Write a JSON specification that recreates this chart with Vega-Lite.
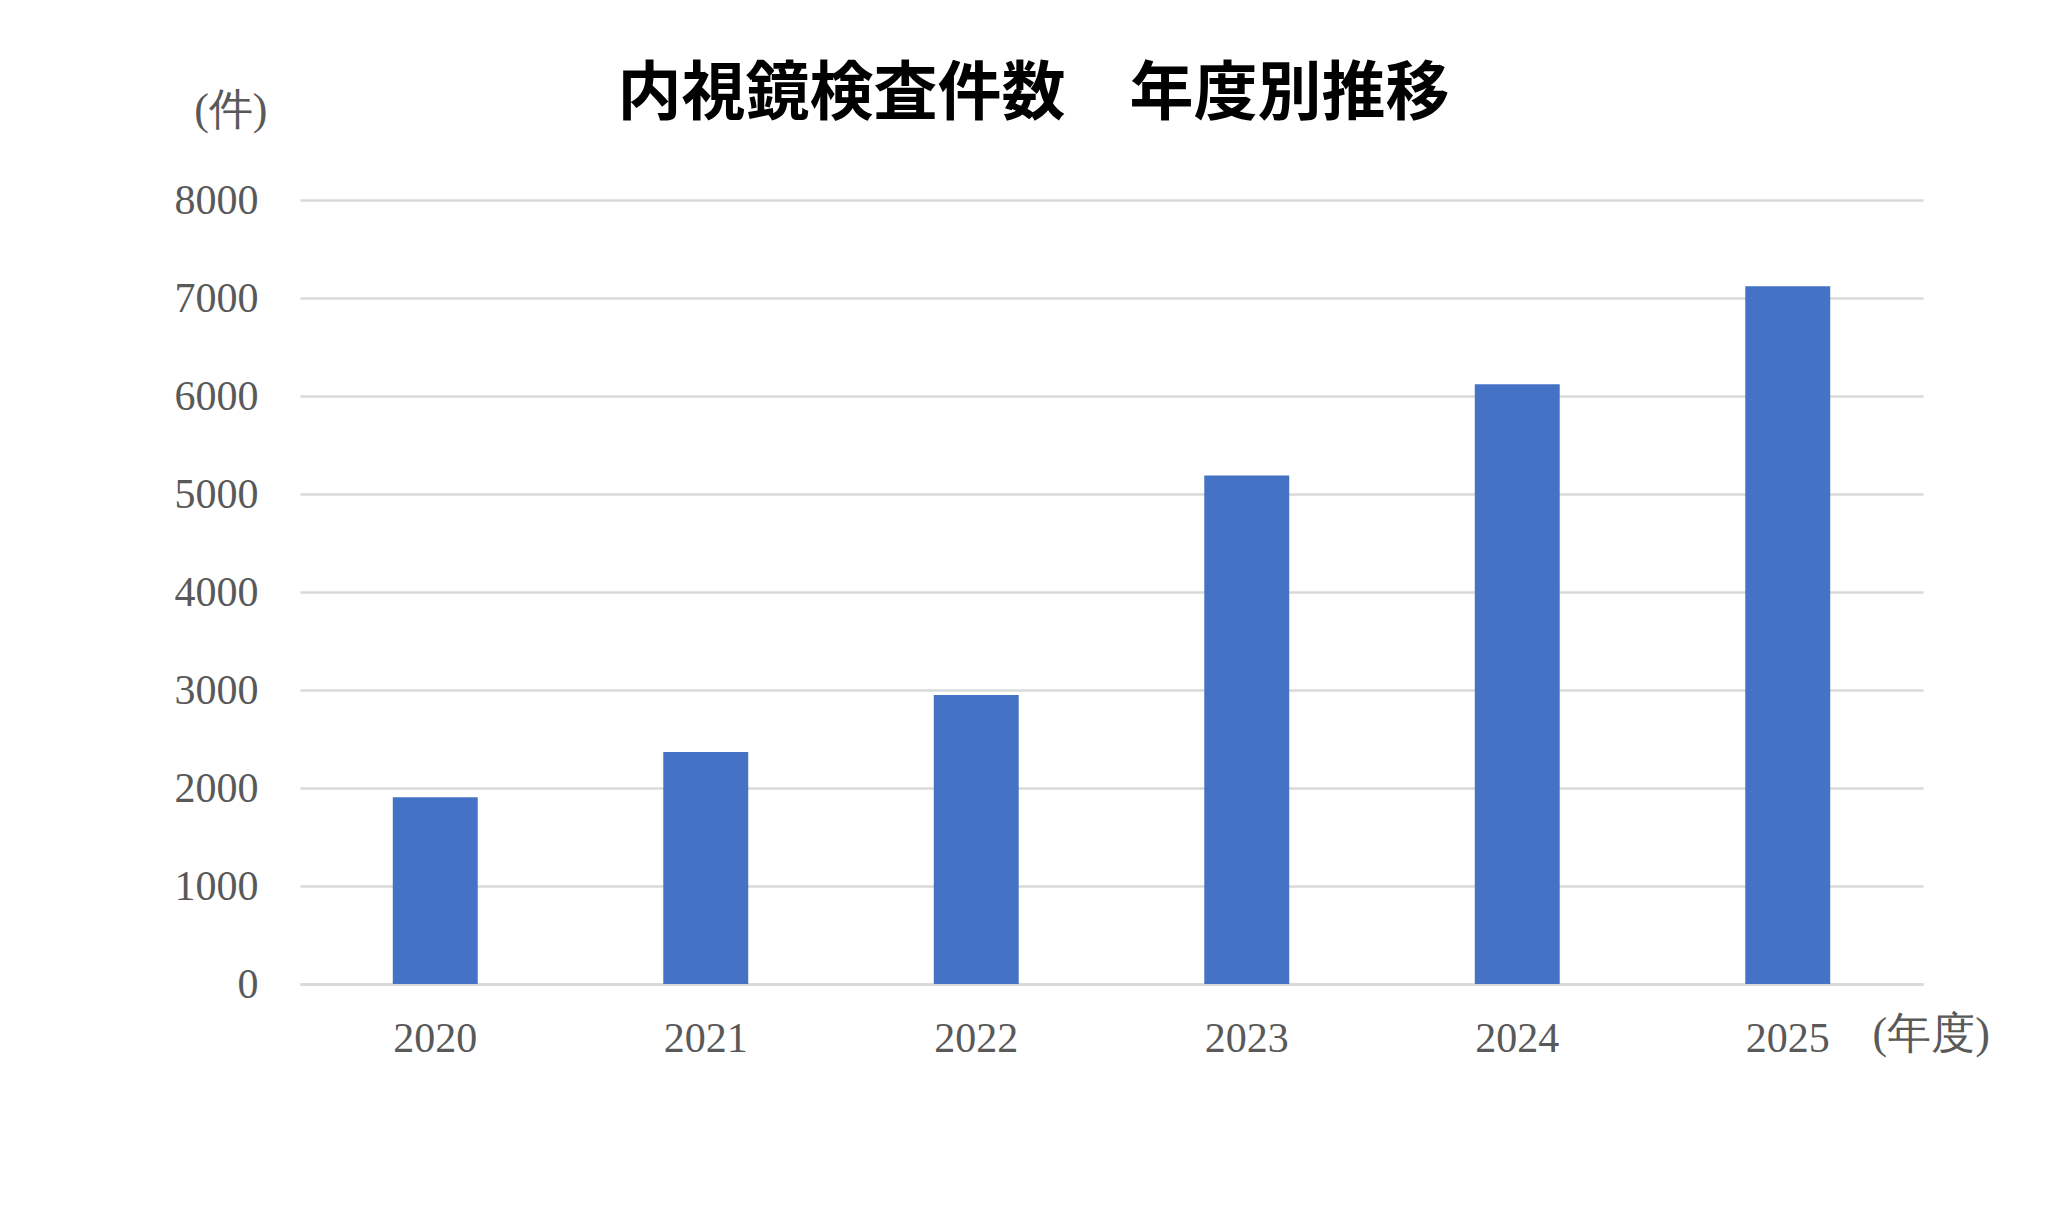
{
  "$schema": "https://vega.github.io/schema/vega-lite/v6.json",
  "autosize": {"type": "none"},
  "padding": {"left": 300, "top": 200, "right": 140, "bottom": 230},
  "width": 1623,
  "height": 784,
  "background": "white",
  "title": {
    "text": "内視鏡検査件数　年度別推移",
    "font": "Noto Sans CJK JP",
    "fontSize": 64,
    "fontWeight": "bold",
    "color": "#000000",
    "anchor": "middle",
    "frame": "group",
    "baseline": "alphabetic",
    "offset": -90,
    "dx": -78
  },
  "data": {
    "values": [
      {"year": "2020", "count": 1905},
      {"year": "2021", "count": 2367},
      {"year": "2022", "count": 2950},
      {"year": "2023", "count": 5190},
      {"year": "2024", "count": 6120},
      {"year": "2025", "count": 7120}
    ]
  },
  "mark": {"type": "bar", "color": "#4472C4"},
  "encoding": {
    "x": {
      "field": "year",
      "type": "ordinal",
      "sort": null,
      "scale": {"paddingInner": 0.686, "paddingOuter": 0.343},
      "axis": {
        "title": "(年度)",
        "titleX": 1572,
        "titleY": 50,
        "titleAlign": "left",
        "titleBaseline": "middle",
        "titleAngle": 0,
        "titleFont": "Liberation Serif",
        "titleFontSize": 44,
        "titleFontWeight": "normal",
        "titleColor": "#595959",
        "labelAngle": 0,
        "labelFont": "Liberation Serif",
        "labelFontSize": 42,
        "labelColor": "#595959",
        "labelPadding": 34,
        "ticks": false,
        "tickSize": 0,
        "domainColor": "#d9d9d9",
        "domainWidth": 2.5,
        "grid": false
      }
    },
    "y": {
      "field": "count",
      "type": "quantitative",
      "scale": {"domain": [0, 8000], "nice": false},
      "axis": {
        "title": "(件)",
        "titleX": -33,
        "titleY": -90,
        "titleAlign": "right",
        "titleBaseline": "middle",
        "titleAngle": 0,
        "titleFont": "Liberation Serif",
        "titleFontSize": 44,
        "titleFontWeight": "normal",
        "titleColor": "#595959",
        "values": [0, 1000, 2000, 3000, 4000, 5000, 6000, 7000, 8000],
        "format": "d",
        "labelFont": "Liberation Serif",
        "labelFontSize": 42,
        "labelColor": "#595959",
        "labelPadding": 42,
        "ticks": false,
        "tickSize": 0,
        "domain": false,
        "grid": true,
        "gridColor": "#d9d9d9",
        "gridWidth": 2.5
      }
    }
  },
  "config": {"view": {"stroke": null}}
}
